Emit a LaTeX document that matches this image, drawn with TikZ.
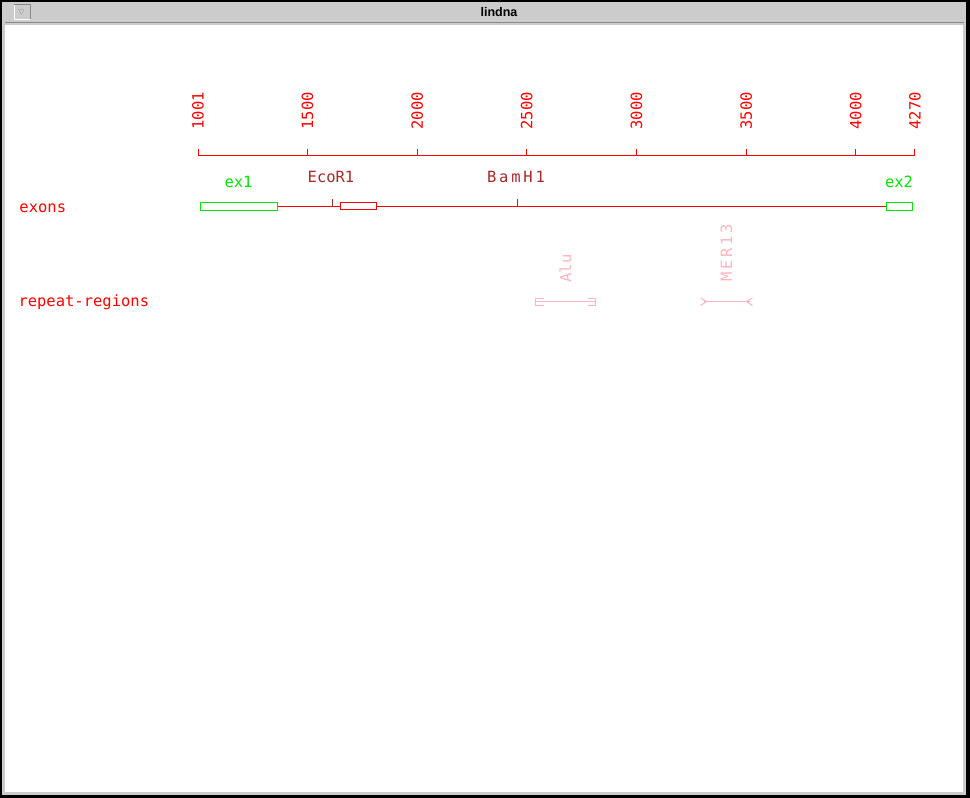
\documentclass[tikz,border=0pt]{standalone}
\usepackage{fontspec}
\setmonofont{DejaVu Sans Mono}
\setsansfont{Liberation Sans}
\usepackage{tikz}

\definecolor{exongreen}{RGB}{0,230,0}
\definecolor{sitebrown}{RGB}{165,42,42}
\definecolor{repeatpink}{RGB}{255,182,193}
\definecolor{bargray}{RGB}{204,204,204}
\definecolor{edgegray}{RGB}{136,136,136}

\tikzset{
	lbl/.style={font=\ttfamily\fontsize{15.5}{17}\selectfont, inner sep=0pt},
	widelbl/.style={font=\ttfamily\fontsize{15.5}{17}\selectfont\addfontfeatures{LetterSpace=18}, inner sep=0pt},
	ticklbl/.style={lbl, text=red, rotate=90, anchor=west},
	exonbox/.style={draw=#1, line width=1pt, inner sep=0pt, minimum height=8pt},
}

\begin{document}
\begin{tikzpicture}[x=1pt, y=-1pt, line width=1pt]
	\useasboundingbox (0,0) rectangle (970,798);
	
	% window frame
	\fill[black] (0,0) rectangle (970,798);
	\fill[bargray] (2,2) rectangle (966,795);
	\fill[white] (5,25) rectangle (963,792);
	\draw[edgegray] (5,22) -- (964,22);
	\draw[white, line width=0.6pt] (14,4) -- (14,19) -- (30,19);
	\draw[edgegray, line width=0.6pt] (14,4) -- (30,4) -- (30,19);
	\node[font=\fontsize{7}{8}\selectfont, inner sep=0pt, text=edgegray] (closebox) at (21.5,11.5) {$\bigtriangledown$};
	\node[font=\sffamily\bfseries\fontsize{12.5}{14}\selectfont, inner sep=0pt, anchor=base] (title) at (499,16) {lindna};
	
	% scale
	\foreach \p in {1001,1500,2000,2500,3000,3500,4000,4270} {
		\coordinate (t\p) at ({198+(\p-1001)*0.21933},155);
		\coordinate (u\p) at ({198+(\p-1001)*0.21933},149);
		\node[ticklbl] (l\p) at ({198+(\p-1001)*0.21933},130) {\p};
		\path[-, red] (t\p) edge (u\p);
	}
	\path[-, red] (t1001) edge (t4270);
	
	% exons
	\node[lbl, text=red, anchor=base west] (exons) at (19,212) {exons};
	\node[exonbox=exongreen, minimum width=77pt] (ex1) at (238.5,206) {};
	\node[exonbox=red, minimum width=36pt, minimum height=7pt] (ex0) at (358.5,206) {};
	\node[exonbox=exongreen, minimum width=26pt] (ex2) at (899,206) {};
	\node[lbl, text=exongreen, anchor=base] (ex1lbl) at (238.5,187) {ex1};
	\node[lbl, text=exongreen, anchor=base] (ex2lbl) at (899,187) {ex2};
	\path[-, red] (ex1) edge (ex0);
	\path[-, red] (ex0) edge (ex2);
	
	\coordinate (ecotop) at (332,199);
	\coordinate (ecobot) at (332,206);
	\coordinate (bamtop) at (517,199);
	\coordinate (bambot) at (517,206);
	\node[lbl, text=sitebrown, anchor=base] (ecor1) at (331,182.5) {EcoR1};
	\node[widelbl, text=sitebrown, anchor=base] (bamh1) at (516,182.5) {BamH1};
	\path[-, sitebrown] (ecotop) edge (ecobot);
	\path[-, sitebrown] (bamtop) edge (bambot);
	
	% repeat regions
	\node[lbl, text=red, anchor=base west] (repeats) at (18,306) {repeat-regions};
	\coordinate (alua) at (535.5,301.5);
	\coordinate (alub) at (595.5,301.5);
	\coordinate (mera) at (700.5,301.5);
	\coordinate (merb) at (752.5,301.5);
	\node[ticklbl, text=repeatpink] (alu) at (565.5,283) {Alu};
	\node[widelbl, text=repeatpink, rotate=90, anchor=west] (mer13) at (726.5,282) {MER13};
	\path[-, repeatpink] (alua) edge (alub);
	\draw[repeatpink] ([xshift=8pt, yshift=3.5pt]alua) -- ([yshift=3.5pt]alua) -- ([yshift=-3.5pt]alua) -- ([xshift=8pt, yshift=-3.5pt]alua);
	\draw[repeatpink] ([xshift=-8pt, yshift=3.5pt]alub) -- ([yshift=3.5pt]alub) -- ([yshift=-3.5pt]alub) -- ([xshift=-8pt, yshift=-3.5pt]alub);
	\path[-, repeatpink] ([xshift=3pt]mera) edge ([xshift=-3pt]merb);
	\draw[repeatpink] ([yshift=3.5pt]mera) -- ([xshift=6pt]mera) -- ([yshift=-4pt]mera);
	\draw[repeatpink] ([yshift=3.5pt]merb) -- ([xshift=-6pt]merb) -- ([yshift=-4pt]merb);
	
\end{tikzpicture}
\end{document}
